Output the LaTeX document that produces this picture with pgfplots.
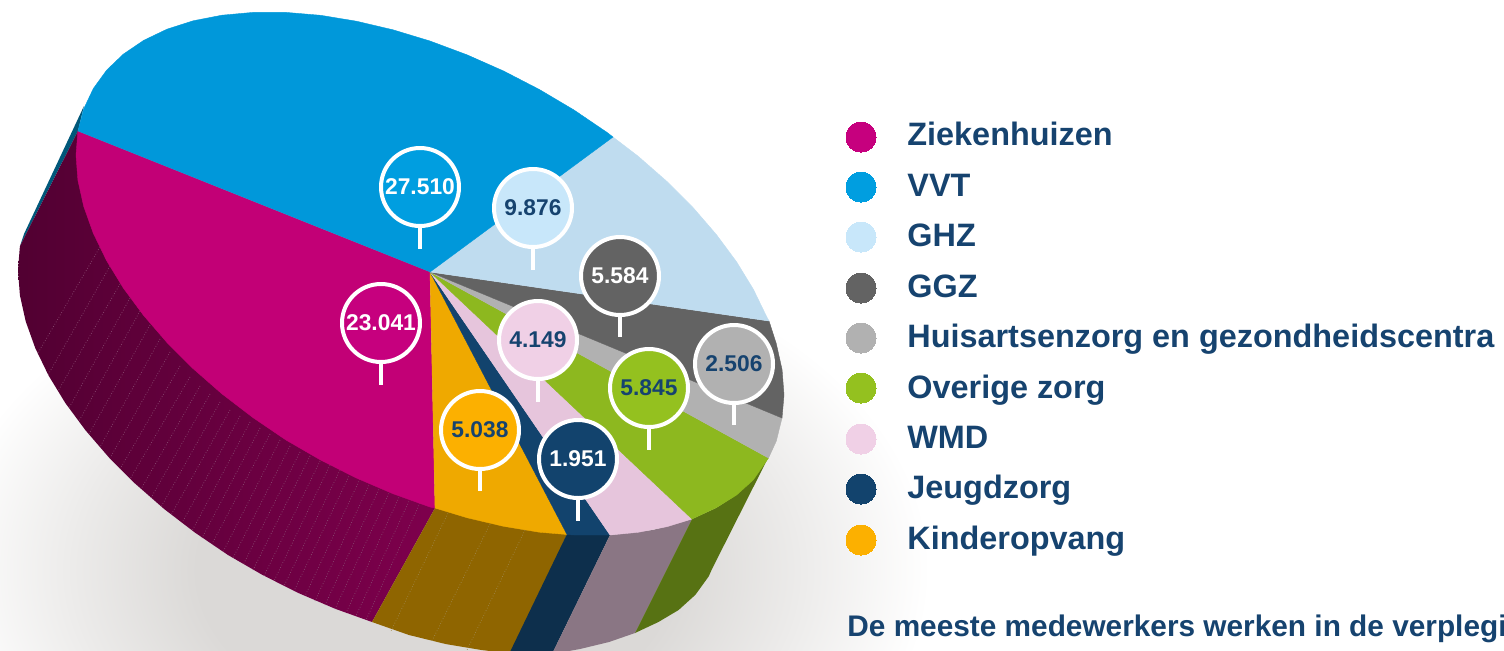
\documentclass[border=0pt]{standalone}
\usepackage{fontspec}
\setmainfont{Liberation Sans}
\usepackage{pgfplots}
\pgfplotsset{compat=1.18}

\definecolor{navytxt}{HTML}{16436F}
\definecolor{cZiek}{HTML}{C20076}
\definecolor{cVVT}{HTML}{0098DA}
\definecolor{cGHZ}{HTML}{BFDCEF}
\definecolor{cGGZ}{HTML}{636363}
\definecolor{cHuis}{HTML}{B1B1B1}
\definecolor{cOver}{HTML}{8DB81F}
\definecolor{cWMD}{HTML}{E6C5DC}
\definecolor{cJeugd}{HTML}{12436D}
\definecolor{cKind}{HTML}{EFA900}
\definecolor{sVVT}{HTML}{00587A}
% brighter versions, used in pins and legend dots
\definecolor{dZiek}{HTML}{C6007E}
\definecolor{dVVT}{HTML}{009EE0}
\definecolor{dGHZ}{HTML}{C8E7FA}
\definecolor{dOver}{HTML}{94C11F}
\definecolor{dWMD}{HTML}{F0D0E6}
\definecolor{dKind}{HTML}{FCB000}
\definecolor{shadowgray}{HTML}{DBD9D7}
\pgfdeclareradialshading{pieshadow}{\pgfpointorigin}{%
  color(0bp)=(shadowgray); color(12bp)=(shadowgray); color(18bp)=(shadowgray!55!white); color(25bp)=(white); color(50bp)=(white)}

\newcommand{\pin}[5]{%
  \addplot[only marks, mark=*, mark size=19.5pt,
    mark options={fill=#4, draw=white, line width=2pt},
    nodes near coords, point meta=explicit symbolic,
    nodes near coords style={anchor=center, inner sep=0pt, text=#5, font=\fontsize{11.4}{12}\selectfont\bfseries}]
    coordinates {(#1,#2)[#3]};}
\newcommand{\legdot}[3]{%
  \addplot[only marks, mark=*, mark size=7.5pt, color=#3, mark options={fill=#3, draw=#3, line width=0pt}] coordinates {(#1,#2)};}
\newcommand{\legtext}[2]{%
  \node[anchor=base west, inner sep=0pt, text=navytxt, font=\fontsize{16.2}{18}\selectfont\bfseries] at (axis cs:907,#1) {#2};}

\begin{document}
\begin{tikzpicture}
\path[use as bounding box, clip] (0,0) rectangle (752pt,325pt);
\begin{axis}[
  at={(0,0)}, anchor=south west, scale only axis, width=752pt, height=325pt,
  xmin=0, xmax=1504, ymin=0, ymax=650, y dir=reverse, hide axis,
  unbounded coords=jump
]
% soft shadow under the pie
\addplot[draw=none, shading=pieshadow] coordinates {(-60,240) (930,240) (930,900) (-60,900)};

% side walls
\addplot[fill=sVVT, draw=none] coordinates {(84,106) (24,234) (20,246) (78,131)};
\addplot[draw=none, left color=cZiek!42!black, right color=cZiek!65!black] coordinates {
  (77.9,131.2) (19.9,246.2) (18,270) (19.9,295.2) (25.7,321.3) (35.3,348.2) (48.6,375.6) (65.4,403.1) (85.6,430.4)
  (108.9,457.4) (135.1,483.6) (163.9,508.8) (195,532.6) (228,555) (262.6,575) (298.4,593) (335,608.7) (372,622) (435,508) (300,300)};
\addplot[color=cZiek!45!black!70!white, densely dotted, line width=.35pt] coordinates {
  (100,247) (38,353) (100,nan) (110,266) (48,375) (110,nan) (120,284) (58,391) (120,nan)
  (130,298) (69,408) (130,nan) (140,311) (79,421) (140,nan) (150,325) (89,434) (150,nan)
  (160,339) (100,447) (160,nan) (170,352) (110,458) (170,nan) (180,366) (120,469) (180,nan)
  (190,377) (130,479) (190,nan) (200,386) (141,489) (200,nan) (210,394) (151,498) (210,nan)
  (220,402) (161,507) (220,nan) (230,410) (171,515) (230,nan) (240,416) (182,523) (240,nan)
  (250,422) (192,531) (250,nan) (260,428) (202,538) (260,nan) (270,434) (212,544) (270,nan)
  (280,440) (223,552) (280,nan) (290,446) (233,558) (290,nan) (300,452) (243,565) (300,nan)
  (310,456) (253,570) (310,nan) (320,461) (264,576) (320,nan) (330,465) (274,581) (330,nan)
  (340,470) (284,586) (340,nan) (350,474) (294,591) (350,nan) (360,479) (305,596) (360,nan)
  (370,483) (315,601) (370,nan) (380,487) (325,605) (380,nan) (390,491) (335,609) (390,nan)
  (400,495) (346,613) (400,nan) (410,499) (356,616) (410,nan) (420,503) (366,620)};
\addplot[fill=cKind!60!black, draw=none] coordinates {(435,508) (372,622) (409,635) (445.6,644) (481.4,650) (516,654) (567,534)};
\addplot[color=cKind!50!black!70!white, densely dotted, line width=.35pt] coordinates {
  (449,511) (391,631) (449,nan) (490,524) (432,641) (490,nan) (525,530) (467,650)};
\addplot[fill=cJeugd!70!black, draw=none] coordinates {(567,534) (509,654) (552,654) (610,535)};
\addplot[fill=cWMD!60!black, draw=none] coordinates {(610,535) (552,654) (580,649) (609,642) (635,633) (692,519) (653,530)};
\addplot[fill=cOver!62!black, draw=none] coordinates {(692,519) (635,633) (658.4,622) (678.6,610) (695.4,594.8) (708.7,576.4) (712,569) (770,454) (736,495) (716,508)};

% top of the pie
\addplot[fill=cZiek, draw=cZiek, line width=.2pt] coordinates {(430,272) (77.9,131.2) (76,155) (77.9,180.2) (83.7,206.3) (93.3,233.2) (106.6,260.6) (123.4,288.1)
  (143.6,315.4) (166.9,342.4) (193.1,368.6) (221.9,393.8) (253,417.6) (286,440) (320.6,460) (356.4,478) (393,493.7) (430,507) (435,508)};
\addplot[fill=cKind, draw=cKind, line width=.2pt] coordinates {(430,272) (435,508) (467,517.7) (503.6,526.3) (539.4,532.2) (567,534.5)};
\addplot[fill=cJeugd, draw=cJeugd, line width=.2pt] coordinates {(430,272) (567,534.5) (574,535) (607,535) (610,535)};
\addplot[fill=cWMD, draw=cWMD, line width=.2pt] coordinates {(430,272) (610,535) (638.1,532.3) (666.9,526.7) (692,519)};
\addplot[fill=cOver, draw=cOver, line width=.2pt] coordinates {(430,272) (692,519) (716.4,507.6) (736.6,495) (753.4,479.8) (768.5,458)};
\addplot[fill=cHuis, draw=cHuis, line width=.2pt] coordinates {(430,272) (768.5,458) (776.3,441) (782,418)};
\addplot[fill=cGGZ, draw=cGGZ, line width=.2pt] coordinates {(430,272) (782,418) (784,395) (782.1,369.8) (776.3,343.7) (769,321)};
\addplot[fill=cGHZ, draw=cGHZ, line width=.2pt] coordinates {(430,272) (769,321) (766.7,316.8) (753.4,289.4) (736.6,261.9) (716.4,234.6) (693.1,207.6) (666.9,181.4) (638.1,156.2) (613,137)};
\addplot[fill=cVVT, draw=cVVT, line width=.2pt] coordinates {(430,272) (613,137) (607,132.4) (574,110) (539.4,89.5) (503.6,71) (467,54.8) (430,41) (393,29.8) (356.4,21.2) (320.6,15.3)
  (286,12.4) (253,12.4) (221.9,15.2) (193.1,20.8) (166.9,29.2) (143.6,40.4) (123.4,54.1) (106.6,70.2) (93.3,88.6) (83.7,108.9) (77.9,131.2)};

% pins: stems first, then the round heads
\addplot[color=white, line width=2pt] coordinates {
  (420,226) (420,249) (420,nan) (533,247) (533,270) (533,nan) (620,315) (620,337) (620,nan)
  (538,379) (538,402) (538,nan) (381,362) (381,385) (381,nan) (734,403) (734,425) (734,nan)
  (649,427) (649,450) (649,nan) (480,469) (480,491) (480,nan) (578,498) (578,521)};
\pin{420}{187}{27.510}{dVVT}{white}
\pin{533}{208}{9.876}{dGHZ}{navytxt}
\pin{620}{276}{5.584}{cGGZ}{white}
\pin{538}{340}{4.149}{dWMD}{navytxt}
\pin{381}{323}{23.041}{dZiek}{white}
\pin{734}{364}{2.506}{cHuis}{navytxt}
\pin{649}{388}{5.845}{dOver}{navytxt}
\pin{480}{430}{5.038}{dKind}{navytxt}
\pin{578}{459}{1.951}{cJeugd}{white}

% legend
\legdot{861}{137}{dZiek}
\legdot{861}{187}{dVVT}
\legdot{861}{237}{dGHZ}
\legdot{861}{288}{cGGZ}
\legdot{861}{338}{cHuis}
\legdot{861}{388}{dOver}
\legdot{861}{439}{dWMD}
\legdot{861}{489}{cJeugd}
\legdot{861}{540}{dKind}
\legtext{145}{Ziekenhuizen}
\legtext{196}{VVT}
\legtext{246}{GHZ}
\legtext{297}{GGZ}
\legtext{347}{Huisartsenzorg en gezondheidscentra}
\legtext{398}{Overige zorg}
\legtext{448}{WMD}
\legtext{498}{Jeugdzorg}
\legtext{549}{Kinderopvang}
\node[anchor=base west, inner sep=0pt, text=navytxt, font=\fontsize{14.9}{16}\selectfont\bfseries] at (axis cs:847,636) {De meeste medewerkers werken in de verpleging};
\end{axis}
\end{tikzpicture}
\end{document}
